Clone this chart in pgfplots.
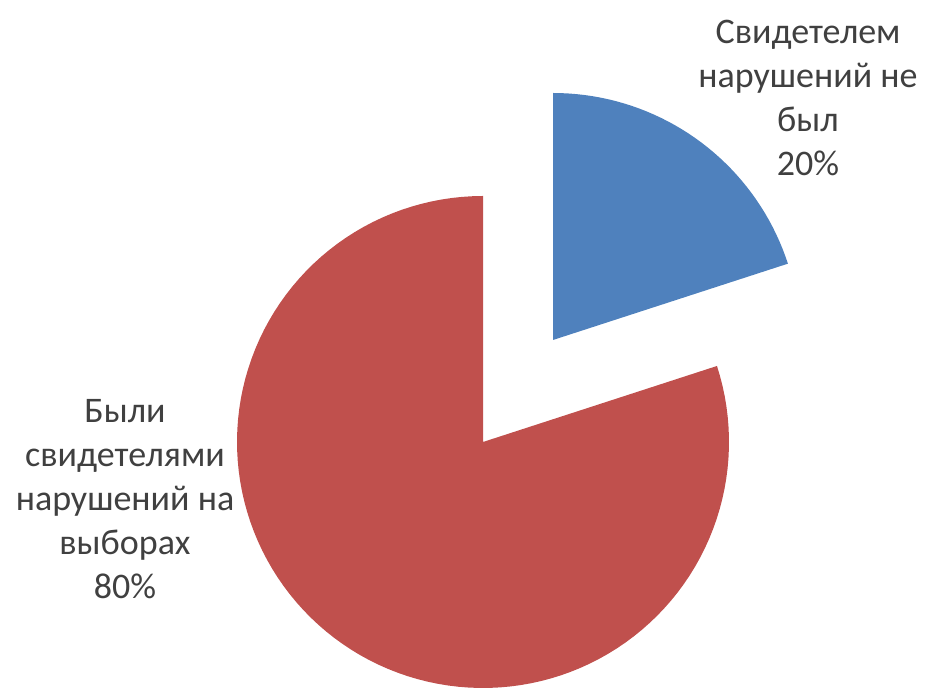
\documentclass[border=0pt]{standalone}
\usepackage{pgfplots}
\usepackage{pgfplotstable}
\usepackage{fontspec}
\setmainfont{Carlito}
\pgfplotsset{compat=1.18}
\definecolor{sliceblue}{HTML}{4F81BD}
\definecolor{slicered}{HTML}{C0504D}
\definecolor{labelgray}{HTML}{404040}

% share of answers, percent
\pgfplotstableread{
slice value
no    20
yes   80
}\piedata
\pgfplotstablegetelem{0}{value}\of\piedata \let\vNo\pgfplotsretval
\pgfplotstablegetelem{1}{value}\of\piedata \let\vYes\pgfplotsretval

\tikzset{pielabel/.style={font=\fontsize{18}{22}\selectfont, text=labelgray, align=center, inner sep=0pt}}

\begin{document}
\begin{tikzpicture}
\begin{axis}[
  scale only axis,
  width=465.5pt, height=347pt,
  xmin=0, xmax=931, ymin=0, ymax=694,
  axis lines=none,
  clip=false,
]
% keep the full canvas in the bounding box
\path (rel axis cs:0,0) rectangle (rel axis cs:1,1);
% big slice, centre (483,252), r=246
\addplot[fill=slicered, draw=none, domain={90}:{90+3.6*\vYes}, samples=120, variable=\t]
  ({483+246*cos(\t)}, {252+246*sin(\t)}) -- (483,252) -- cycle;
% exploded slice
\addplot[fill=sliceblue, draw=none, domain={90-3.6*\vNo}:{90}, samples=40, variable=\t]
  ({553+247*cos(\t)}, {354+247*sin(\t)}) -- (553,354) -- cycle;
\node[pielabel] at (808,596) {Свидетелем\\нарушений не\\был\\\vNo\%};
\node[pielabel] at (125,195) {Были\\свидетелями\\нарушений на\\выборах\\\vYes\%};
\end{axis}
\end{tikzpicture}
\end{document}
